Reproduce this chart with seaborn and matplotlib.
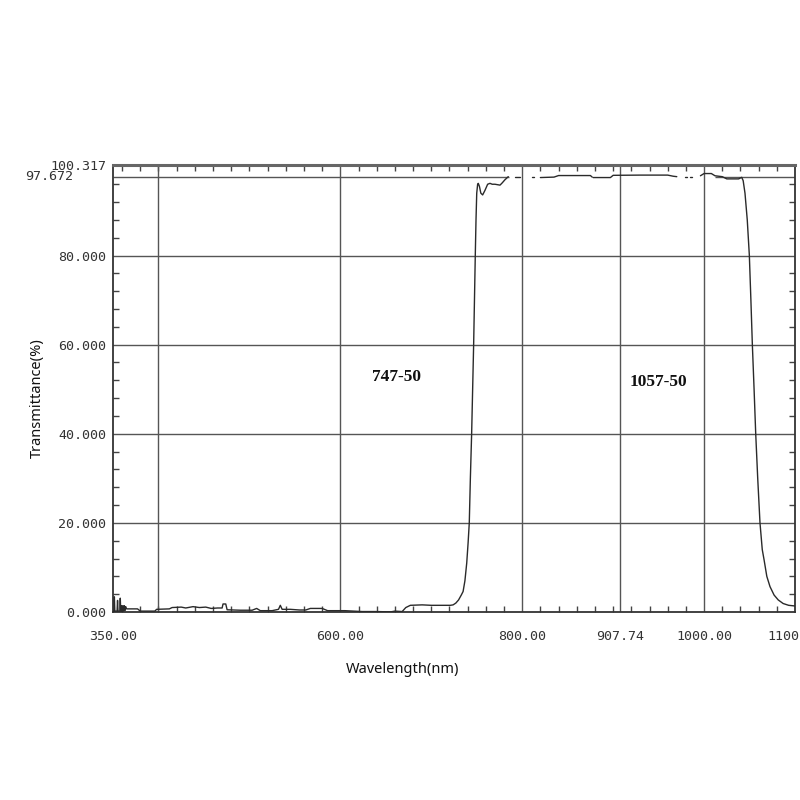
import numpy as np
import pandas as pd
import matplotlib
matplotlib.use("Agg")
import matplotlib.pyplot as plt
import seaborn as sns

# transmittance curve, split where the trace has gaps
seg_low_wl = [350, 351, 351.5, 352, 354.5, 355, 355.5, 357.5, 358, 358.5, 359.5, 360, 361, 361.5,
              362.5, 363, 364, 365, 377, 380, 396, 398, 412, 415, 425, 430, 438, 445, 452, 458,
              465, 470, 471, 474, 475.5, 490, 503, 508, 512, 525, 532, 534, 536, 545, 555, 562,
              567, 580, 586, 605, 624, 640, 650, 656, 660, 668, 672, 677, 690, 700, 710, 718,
              721, 724, 727, 730, 733, 735, 737, 739, 740.5, 741.8, 743, 744.4, 745.5, 746.6,
              747.5, 748.4, 749.2, 750, 751, 751.7, 753, 754.5, 756.5, 759, 762, 764.6, 767,
              770, 775.6, 778, 781, 784.7]
seg_low_t = [0.1, 0.1, 3.4, 0.2, 0.2, 2.6, 0.2, 0.2, 3.1, 0.2, 1.4, 0.1, 1.4, 0.2,
             1.4, 0.3, 1.2, 0.7, 0.7, 0.2, 0.2, 0.6, 0.7, 1.0, 1.1, 0.9, 1.2, 1.0, 1.1, 0.8,
             0.9, 0.9, 1.8, 1.8, 0.5, 0.4, 0.4, 0.8, 0.3, 0.3, 0.6, 1.5, 0.6, 0.6, 0.45, 0.45,
             0.8, 0.8, 0.3, 0.3, 0.1, 0.1, 0.05, 0.05, 0.2, 0.1, 1.0, 1.5, 1.6, 1.5, 1.5, 1.5,
             1.5, 1.6, 2.0, 2.7, 3.8, 4.6, 7.0, 11.0, 15.5, 20.0, 30.0, 40.0, 50.0, 60.0,
             70.0, 80.0, 88.0, 94.0, 96.0, 96.2, 95.5, 94.0, 93.6, 94.6, 96.0, 96.2, 96.0,
             96.0, 95.8, 96.3, 97.0, 97.7]

seg_top = [
    ([792, 798], [97.7, 97.7]),
    ([811, 813], [97.7, 97.7]),
    ([820, 835, 840, 875, 877], [97.5, 97.6, 97.95, 97.95, 97.6]),
    ([878, 897, 900, 930, 960, 966, 970], [97.5, 97.5, 98.0, 98.05, 98.05, 97.8, 97.7]),
    ([979, 981], [97.7, 97.7]),
    ([984, 987], [97.7, 97.7]),
]

seg_high_wl = [996, 1000, 1008, 1012, 1020, 1025, 1038, 1041.4, 1043, 1045, 1047.5, 1049.8,
               1051.5, 1053.1, 1055, 1056.8, 1059, 1061.5, 1064, 1066, 1069, 1072.5, 1077,
               1081.6, 1087, 1093, 1100]
seg_high_t = [97.9, 98.4, 98.4, 97.9, 97.7, 97.2, 97.2, 97.55, 96.8, 94.0, 88.0, 80.0,
              70.0, 60.0, 50.0, 40.0, 30.0, 20.0, 14.0, 11.7, 8.0, 5.7, 3.8,
              2.7, 1.9, 1.5, 1.35]

x_ticks = [350, 600, 800, 907.74, 1000, 1100]
x_labels = ["350.00", "600.00", "800.00", "907.74", "1000.00", "1100.00"]
x_grid = [400, 600, 800, 907.74, 1000]
y_ticks = [0, 20, 40, 60, 80, 100.317]
y_labels = ["0.000", "20.000", "40.000", "60.000", "80.000", "100.317"]
y_grid = [20, 40, 60, 80]
y_mark = 97.672

parts = [(seg_low_wl, seg_low_t)] + seg_top + [(seg_high_wl, seg_high_t)]
df = pd.concat([pd.DataFrame({"wl": w, "t": t, "seg": i}) for i, (w, t) in enumerate(parts)],
               ignore_index=True)

sns.set_theme(style="white")
fig = plt.figure(figsize=(8, 8), dpi=100)
ax = fig.add_axes([0.14125, 0.235, 0.8525, 0.55875])

grid_c = "#555555"
for xv in x_grid:
    ax.axvline(xv, color=grid_c, lw=1, zorder=1)
for yv in y_grid:
    ax.axhline(yv, color=grid_c, lw=1, zorder=1)
# the 97.672 marker line is hidden where the trace runs along it
ax.hlines(y_mark, 350, 786, color=grid_c, lw=1, zorder=1)
ax.hlines(y_mark, 1012, 1100, color=grid_c, lw=1, zorder=1)

sns.lineplot(data=df, x="wl", y="t", units="seg", estimator=None, sort=False,
             color="#2a2a2a", lw=1.0, ax=ax, zorder=3)

ax.set_xlim(350, 1100)
ax.set_ylim(0, 100.317)

mono = "DejaVu Sans Mono"
ax.set_xticks(x_ticks)
ax.set_xticklabels(x_labels, family=mono, fontsize=9.6, color="#333")
ax.set_yticks(y_ticks)
ax.set_yticklabels(y_labels, family=mono, fontsize=9.6, color="#333")
ax.set_xticks(np.arange(360, 1100, 20), minor=True)
ax.set_yticks(np.arange(4, 100, 4), minor=True)
ax.tick_params(axis="x", which="major", direction="out", length=5, width=1,
               color="#333", pad=8)
ax.tick_params(axis="y", which="major", length=0, pad=5)
ax.tick_params(axis="x", which="minor", direction="in", length=4, width=1,
               color="#444", top=True, bottom=True)
ax.tick_params(axis="y", which="minor", direction="in", length=4, width=1,
               color="#444", left=True, right=True)

ax.text(-0.0587, y_mark, "97.672", transform=ax.get_yaxis_transform(),
        ha="right", va="center", family=mono, fontsize=9.6, color="#333")

for side, s in ax.spines.items():
    s.set_color("#333")
    s.set_linewidth(1.3)
ax.spines["top"].set_linewidth(2.2)
ax.spines["top"].set_color("#666")

ax.set_xlabel("Wavelength(nm)", family="Noto Sans", fontsize=10.5, color="#111")
ax.set_ylabel("Transmittance(%)", family="Noto Sans", fontsize=10.5, color="#111")
ax.xaxis.set_label_coords(0.425, -0.112)
ax.yaxis.set_label_coords(-0.0997, 0.479)

ax.text(661.6, 52.8, "747-50", ha="center", va="center", family="Liberation Serif",
        fontweight="bold", fontsize=12.5, color="#111")
ax.text(949.7, 51.7, "1057-50", ha="center", va="center", family="Liberation Serif",
        fontweight="bold", fontsize=12.5, color="#111")

fig.savefig("out.png", dpi=100)
